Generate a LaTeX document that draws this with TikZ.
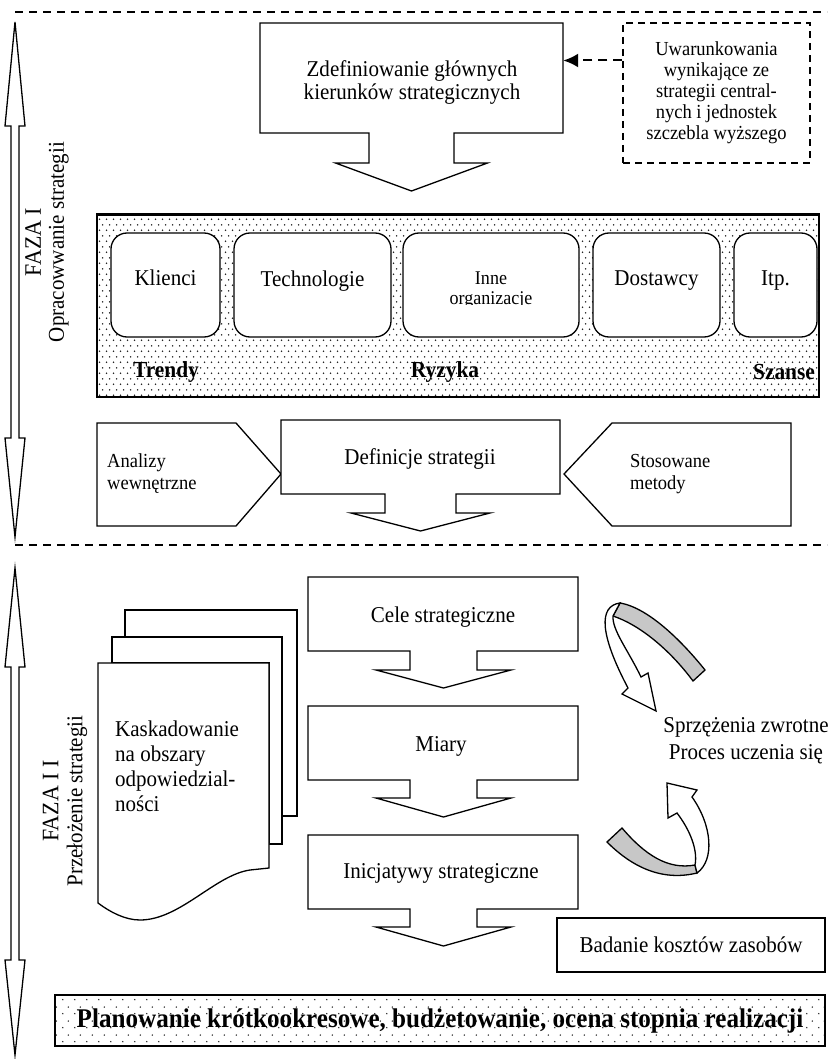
\documentclass[tikz,border=0pt]{standalone}
\usepackage{fontspec}
\setmainfont[FakeStretch=0.93]{Liberation Serif}
\usetikzlibrary{patterns,arrows.meta,calc}

\pgfdeclarepatternformonly{dotsA}{\pgfpointorigin}{\pgfpoint{7pt}{11.4pt}}{\pgfpoint{7pt}{11.4pt}}{%
  \pgfpathcircle{\pgfpoint{1.75pt}{2.85pt}}{0.9pt}%
  \pgfpathcircle{\pgfpoint{5.25pt}{8.55pt}}{0.9pt}%
  \pgfusepath{fill}}
\pgfdeclarepatternformonly{dotsB}{\pgfpointorigin}{\pgfpoint{12pt}{14pt}}{\pgfpoint{12pt}{14pt}}{%
  \pgfpathcircle{\pgfpoint{3pt}{3.5pt}}{0.85pt}%
  \pgfpathcircle{\pgfpoint{9pt}{10.5pt}}{0.85pt}%
  \pgfusepath{fill}}

\newcommand{\fsz}[2]{\fontsize{#1}{#2}\selectfont}
% box with a down arrow: xl, xr, yt, yb, cx, stem half, head half, head base y, tip y
\newcommand{\arrowbox}[9]{%
  \draw[shp] (#1,#3) -- (#2,#3) -- (#2,#4) -- ({#5+#6},#4) -- ({#5+#6},#8) -- ({#5+#7},#8)
    -- (#5,#9) -- ({#5-#7},#8) -- ({#5-#6},#8) -- ({#5-#6},#4) -- (#1,#4) -- cycle;}

\begin{document}
\begin{tikzpicture}[x=1pt,y=-1pt,
  shp/.style={draw, line width=1.3pt, fill=white, line join=miter},
  box/.style={draw, line width=1.3pt, fill=white, inner sep=0pt},
  txt/.style={inner sep=0pt, align=center, font=\fsz{22.6}{23}},
  small/.style={inner sep=0pt, align=left, font=\fsz{19.9}{22}},
  lbl/.style={inner sep=0pt, font=\fsz{23}{23}\bfseries},
  sepline/.style={line width=1.3pt, dash pattern=on 8pt off 6pt},
  rbox/.style={box, rounded corners=16pt, minimum height=104pt},
  band/.style={draw, line width=1.3pt, inner sep=0pt, pattern color=black!85}]
\useasboundingbox (0,0) rectangle (827,1059);
\clip (0,0) rectangle (827,1059);

% separators
\coordinate (s1a) at (15,12);  \coordinate (s1b) at (827,12);
\coordinate (s2a) at (15,545); \coordinate (s2b) at (827,545);
\draw[sepline] (s1a) -- (s1b);
\draw[sepline] (s2a) -- (s2b);

% left double arrows
\draw[shp] (15,22) -- (25,126) -- (19,126) -- (19,438) -- (25,438) -- (15,537)
  -- (5,438) -- (11,438) -- (11,126) -- (5,126) -- cycle;
\draw[shp] (15,568) -- (25,667) -- (19,667) -- (19,960) -- (25,960) -- (15,1055)
  -- (5,960) -- (11,960) -- (11,667) -- (5,667) -- cycle;
\node[txt, rotate=90] (faza1) at (47,242) {{\fsz{23.6}{23}FAZA I}\\Opracowwanie strategii};
\node[txt, rotate=90, font=\fsz{22.6}{24}] (faza2) at (65,801) {{\fsz{23.6}{24}FAZA I I}\\Przełożenie strategii};

% ---------- PHASE I ----------
\arrowbox{260}{563}{23}{133}{411.5}{42.5}{76}{163}{191}
\node[txt, minimum width=303pt, minimum height=110pt] (zdef) at (411.5,78) {};
\node[txt] (zdefT) at (412,82) {Zdefiniowanie głównych\\kierunków strategicznych};

\node[box, dash pattern=on 7pt off 5pt, minimum width=187pt, minimum height=140pt,
      font=\fsz{19.9}{21}, align=center] (uwar) at (716.5,93)
  {Uwarunkowania\\wynikające ze\\strategii central-\\nych i jednostek\\szczebla wyższego};
\coordinate (uwarA) at ($(uwar.north west)!0.27!(uwar.south west)$);
\draw[line width=2pt, dash pattern=on 9pt off 6pt, -{Latex[length=15pt,width=14pt]}]
  (uwarA) -- (zdef.east |- uwarA);

% dotted band
\node[band, pattern=dotsA, minimum width=722pt, minimum height=182pt] (band1) at (458,306) {};
\draw[line width=2pt] (band1.north west) -- (band1.north east);
\node[rbox, minimum width=109pt] (kl) at (165.5,285) {};
\node[rbox, minimum width=157pt] (te) at (312.5,285) {};
\node[rbox, minimum width=176pt] (in) at (491,285) {};
\node[rbox, minimum width=127pt] (do) at (656.5,285) {};
\node[rbox, minimum width=83pt]  (it) at (775.5,285) {};
\node[txt] (klT) at (165.5,278) {Klienci};
\node[txt] (teT) at (312.5,281) {Technologie};
\node[txt] (doT) at (656.5,281) {Dostawcy};
\node[txt] (itT) at (775.5,281) {Itp.};
\begin{scope}
  \clip (403,233) rectangle (579,304);
  \node[inner sep=0pt, align=center, font=\fsz{19.4}{20}] (inT) at (491,290) {Inne\\organizacje};
\end{scope}
\node[lbl] (trend) at (166,372) {Trendy};
\node[lbl] (ryz) at (445,372) {Ryzyka};
\node[lbl] (szan) at (784,372) {Szanse};

% analyses row
\draw[shp] (97,423) -- (236,423) -- (281,474) -- (236,526) -- (97,526) -- cycle;
\draw[shp] (564,474) -- (612,423) -- (791,423) -- (791,526) -- (612,526) -- cycle;
\node[small, anchor=west] (anT) at (107,474) {Analizy\\wewnętrzne};
\node[small, anchor=west] (stT) at (630,474) {Stosowane\\metody};
\arrowbox{281}{560}{420}{494}{420.5}{35.5}{69.5}{513}{531}
\node[txt] (defT) at (420,459) {Definicje strategii};

% ---------- PHASE II ----------
% document stack
\draw[shp] (125,637) -- (125,610) -- (297,610) -- (297,816) -- (282,816) -- (282,637) -- cycle;
\draw[shp] (112,663) -- (112,637) -- (282,637) -- (282,844) -- (269,844) -- (269,663) -- cycle;
\draw[shp] (98,663) -- (269,663) -- (269,868) -- (250,870)
  .. controls (215,875) and (180,920) .. (140,920)
  .. controls (125,920) and (110,912) .. (98,903) -- cycle;
\node[inner sep=0pt, align=left, font=\fsz{22.6}{25}, anchor=west] (kask) at (115,766)
  {Kaskadowanie\\na obszary\\odpowiedzial-\\ności};

\arrowbox{308}{578}{577}{651}{443.5}{33.5}{67.5}{670}{688}
\node[txt] (cele) at (443,617) {Cele strategiczne};
\arrowbox{308}{578}{706}{780}{443.5}{33.5}{67.5}{798}{817}
\node[txt] (miary) at (441,746) {Miary};
\arrowbox{308}{578}{835}{909}{443.5}{33.5}{67.5}{927}{946}
\node[txt] (inic) at (441,873) {Inicjatywy strategiczne};

% feedback arrows
\draw[shp, fill=black!22] (705,670) .. controls (685,645) and (650,608) .. (620,603)
  -- (613,616) .. controls (640,625) and (670,650) .. (693,681) -- cycle;
\draw[shp] (620,603) .. controls (598,606) and (600,635) .. (628,688) -- (622,694)
  -- (656,711) -- (648,673) -- (641,677) .. controls (628,650) and (612,630) .. (613,616) -- cycle;
\draw[shp, fill=black!22] (607,842) .. controls (630,865) and (660,882) .. (697,873)
  -- (695,865) .. controls (668,870) and (645,855) .. (622,828) -- cycle;
\draw[shp] (697,873) .. controls (715,860) and (712,825) .. (692,797) -- (697,790)
  -- (667,783) -- (668,818) -- (677,813) .. controls (690,830) and (698,850) .. (695,865) -- cycle;
\node[inner sep=0pt, align=center, font=\fsz{22.6}{27}] (sprz) at (746,741)
  {Sprzężenia zwrotne\\Proces uczenia się};

\node[box, minimum width=268pt, minimum height=54pt, font=\fsz{22.6}{23}] (bad) at (691,945)
  {Badanie kosztów zasobów};

\node[band, pattern=dotsB, line width=1.6pt, minimum width=770pt, minimum height=51pt,
      font=\fsz{27}{27}\bfseries] (plan) at (440,1020.5)
  {Planowanie krótkookresowe, budżetowanie, ocena stopnia realizacji};
\end{tikzpicture}
\end{document}
